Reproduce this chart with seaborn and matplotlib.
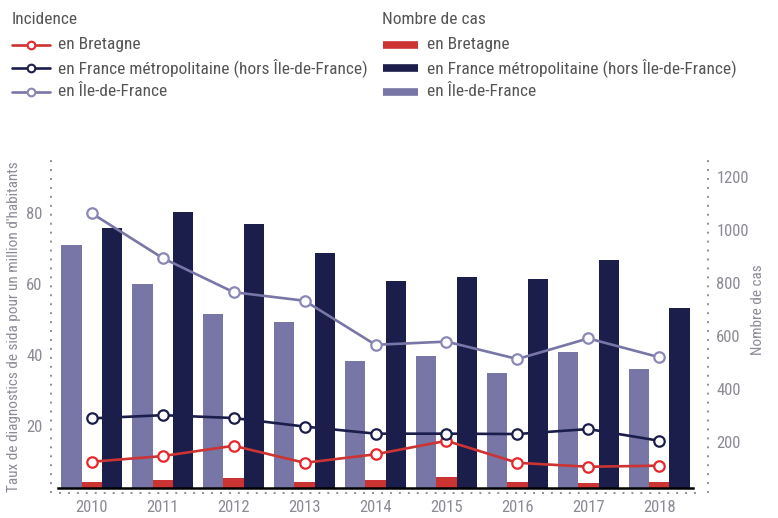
import matplotlib
matplotlib.use("Agg")
import matplotlib.pyplot as plt
from matplotlib import font_manager
from matplotlib.lines import Line2D
import seaborn as sns
import pandas as pd

# Données
annees = ["2010", "2011", "2012", "2013", "2014", "2015", "2016", "2017", "2018"]
zones = ["en Bretagne", "en France métropolitaine (hors Île-de-France)", "en Île-de-France"]

# Incidence (taux pour un million d'habitants)
taux_bretagne = [9.9, 11.5, 14.4, 9.6, 12.0, 15.8, 9.6, 8.5, 8.8]
taux_france = [22.1, 23.0, 22.2, 19.8, 17.8, 17.8, 17.7, 19.1, 15.8]
taux_idf = [79.8, 67.2, 57.6, 55.2, 42.8, 43.7, 38.8, 44.6, 39.3]

# Nombre de cas
cas_bretagne = [49, 55, 63, 49, 55, 68, 49, 43, 49]
cas_france = [1008, 1067, 1020, 911, 808, 822, 815, 886, 706]
cas_idf = [941, 795, 681, 653, 506, 525, 460, 538, 473]

couleurs = {
    "en Bretagne": "#cc3333",
    "en France métropolitaine (hors Île-de-France)": "#1b1d4b",
    "en Île-de-France": "#7876a7",
}
bord_marqueur = {
    "en Bretagne": "#e8262b",
    "en France métropolitaine (hors Île-de-France)": "#1b1d4b",
    "en Île-de-France": "#8a88b6",
}

# police étroite si disponible
police = "DejaVu Sans"
for nom in ["Liberation Sans Narrow", "Roboto Condensed", "Open Sans Condensed", "Noto Sans", "Liberation Sans"]:
    try:
        font_manager.findfont(nom, fallback_to_default=False)
        police = nom
        break
    except Exception:
        pass

sns.set_theme(style="white")
plt.rcParams["font.family"] = [police, "DejaVu Sans"]

gris = "#8b8b95"
gris_texte = "#555555"

df_cas = pd.DataFrame({
    "annee": annees * 3,
    "zone": [zones[2]] * 9 + [zones[0]] * 9 + [zones[1]] * 9,
    "cas": cas_idf + cas_bretagne + cas_france,
})
df_taux = pd.DataFrame({
    "pos": list(range(len(annees))) * 3,
    "zone": [zones[0]] * 9 + [zones[1]] * 9 + [zones[2]] * 9,
    "taux": taux_bretagne + taux_france + taux_idf,
})

W, H = 778, 518
fig = plt.figure(figsize=(W / 100, H / 100), dpi=100)
ax_g, ax_b, ax_d, ax_h = 51, 487.7, 708, 155
ax = fig.add_axes([ax_g / W, 1 - ax_b / H, (ax_d - ax_g) / W, (ax_b - ax_h) / H])

# Barres : nombre de cas (axe de droite)
sns.barplot(data=df_cas, x="annee", y="cas", hue="zone",
            hue_order=[zones[2], zones[0], zones[1]], palette=couleurs,
            width=0.86, saturation=1, linewidth=0, legend=False, ax=ax)
ax.set_ylim(26.4, 1282)
ax.set_xlim(-0.574, 8.686)
ax.set_xlabel("")

# Lignes : incidence (axe de gauche)
ax2 = ax.twinx()
for z in zones:
    sous = df_taux[df_taux["zone"] == z]
    sns.lineplot(data=sous, x="pos", y="taux", color=couleurs[z], lw=1.9,
                 marker="o", markersize=7.5, markerfacecolor="white",
                 markeredgecolor=bord_marqueur[z], markeredgewidth=1.6, ax=ax2)
ax2.yaxis.tick_left()
ax2.yaxis.set_label_position("left")
ax2.set_ylim(2.6, 96.2)
ax2.set_yticks([20, 40, 60, 80])
ax2.set_ylabel("Taux de diagnostics de sida pour un million d'habitants", fontsize=11, color=gris)
ax2.yaxis.set_label_coords(-0.046, 0.483)
ax2.set_xlabel("")

ax.yaxis.tick_right()
ax.yaxis.set_label_position("right")
ax.set_yticks([200, 400, 600, 800, 1000, 1200])
ax.set_ylabel("Nombre de cas", fontsize=11, color=gris)
ax.yaxis.set_label_coords(1.065, 0.534)

for a in (ax, ax2):
    for s in a.spines.values():
        s.set_visible(False)
    a.tick_params(axis="y", length=0, labelsize=12, labelcolor=gris, pad=6)
    a.grid(False)

ax.tick_params(axis="x", length=0, labelsize=12, labelcolor=gris, pad=9)
ax.set_xticks([i + 0.5 for i in range(len(annees) - 1)], minor=True)
ax.tick_params(axis="x", which="minor", length=4, width=1.4, color="black", direction="out")
ax.spines["bottom"].set_visible(True)
ax.spines["bottom"].set_color("black")
ax.spines["bottom"].set_linewidth(1.8)
ax.spines["bottom"].set_bounds(-0.475, 8.475)

# axes pointillés
pointille = dict(color="#8e8e96", lw=1.4, ls=(0, (1, 3.6)), clip_on=False, transform=ax.transAxes)
ax.plot([0, 0], [-0.016, 1], **pointille)
ax.plot([1, 1], [-0.016, 1], **pointille)
ax.plot([0.012, 0.985], [-0.016, -0.016], **pointille)

# Légendes
def fy(py):
    return 1 - py / H

fig.text(12 / W, fy(20), "Incidence", fontsize=12.5, color=gris_texte, va="center", ha="left")
fig.text(382 / W, fy(20), "Nombre de cas", fontsize=12.5, color=gris_texte, va="center", ha="left")
lignes_y = [45, 68, 92]
for z, py in zip(zones, lignes_y):
    fig.add_artist(Line2D([12 / W, 50 / W], [fy(py), fy(py)], transform=fig.transFigure,
                          color=couleurs[z], lw=1.9))
    fig.add_artist(Line2D([31 / W], [fy(py)], transform=fig.transFigure, marker="o",
                          markersize=5.5, markerfacecolor="white",
                          markeredgecolor=bord_marqueur[z], markeredgewidth=1.5))
    fig.text(58 / W, fy(py), z, fontsize=12.5, color=gris_texte, va="center", ha="left")
    fig.add_artist(Line2D([383 / W, 418 / W], [fy(py), fy(py)], transform=fig.transFigure,
                          color=couleurs[z], lw=5.5, solid_capstyle="butt"))
    fig.text(427 / W, fy(py), z, fontsize=12.5, color=gris_texte, va="center", ha="left")

fig.savefig("out.png", dpi=100)
